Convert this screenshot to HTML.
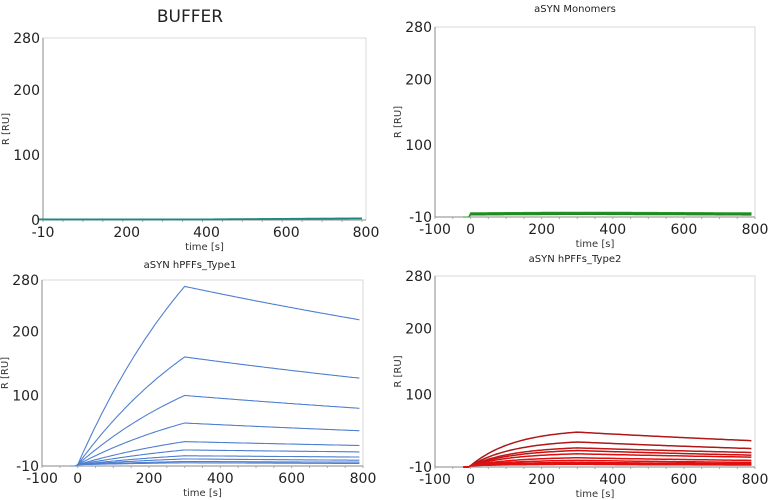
<!DOCTYPE html>
<html><head><meta charset="utf-8">
<style>
html,body{margin:0;padding:0;background:#fff;width:771px;height:500px;overflow:hidden}
svg{display:block;font-family:"DejaVu Sans","Liberation Sans",sans-serif}
</style></head><body>
<svg id="s" width="771" height="500" viewBox="0 0 771 500"></svg>
<script>
const s=document.getElementById('s');let h='';
function panel(o){
 const {L,R,T,B,xmin,xmax,ymin,ymax,xt,yt,title,tx,ty,tsize}=o;
 const X=v=>L+(v-xmin)/(xmax-xmin)*(R-L), Y=v=>B-(v-ymin)/(ymax-ymin)*(B-T);
 h+=`<rect x="${L}" y="${T}" width="${R-L}" height="${B-T}" fill="none" stroke="#d8d8d8"/>`;
 h+=`<line x1="${L}" y1="${T}" x2="${L}" y2="${B}" stroke="#888"/><line x1="${L}" y1="${B}" x2="${R}" y2="${B}" stroke="#888"/>`;
 for(const v of yt){h+=`<text x="${L-3}" y="${Y(v)+5}" font-size="14" text-anchor="end" fill="#222">${v}</text>`;}
 for(const v of xt){h+=`<text x="${X(v)}" y="${B+17}" font-size="14" text-anchor="middle" fill="#222">${v}</text>`;}
 for(let v=xmin;v<=xmax;v+=50){h+=`<line x1="${X(v)}" y1="${B}" x2="${X(v)}" y2="${B+2}" stroke="#aaa"/>`;}
 h+=`<text x="${(L+R)/2}" y="${B+30}" font-size="10" text-anchor="middle" fill="#333">time [s]</text>`;
 h+=`<text transform="translate(${L-34},${(T+B)/2}) rotate(-90)" font-size="10" text-anchor="middle" fill="#333">R [RU]</text>`;
 h+=`<text x="${tx}" y="${ty}" font-size="${tsize}" text-anchor="middle" fill="#222">${title}</text>`;
 return {X,Y};
}
function curve(P,f,col,w){let d='';for(let t=-20;t<=790;t+=5){d+=(d?'L':'M')+P.X(t).toFixed(1)+','+P.Y(f(t)).toFixed(1);}
 h+=`<path d="${d}" fill="none" stroke="${col}" stroke-width="${w}"/>`;}
function kin(base,peak,end,k){const kd=-Math.log((end-base)/(peak-base||1e-9))/490;
 return t=>t<0?-10:t<=300?base+(peak-base)*(1-Math.exp(-k*t))/(1-Math.exp(-k*300)):base+(peak-base)*Math.exp(-kd*(t-300));}
// BUFFER
let P=panel({L:43,R:366,T:38,B:220,xmin:-10,xmax:800,ymin:0,ymax:280,xt:[-10,200,400,600,800],yt:[0,100,200,280],title:'BUFFER',tx:190,ty:22,tsize:17});
for(let i=0;i<4;i++)curve(P,t=>0.5+i*0.3+Math.max(0,t-400)*0.004,'#1a8a80',1.2);
// Monomers
P=panel({L:435,R:755,T:27,B:217,xmin:-100,xmax:800,ymin:-10,ymax:280,xt:[-100,0,200,400,600,800],yt:[-10,100,200,280],title:'aSYN Monomers',tx:575,ty:12,tsize:10});
for(let i=0;i<8;i++)curve(P,t=>t<0?-10:-7+i*0.5+Math.min(t,300)*0.003-Math.max(0,t-300)*0.002,i%2?'#2a9a2a':'#1b7a1b',1);
// Type1
P=panel({L:42,R:363,T:280,B:466,xmin:-100,xmax:800,ymin:-10,ymax:280,xt:[-100,0,200,400,600,800],yt:[-10,100,200,280],title:'aSYN hPFFs_Type1',tx:190,ty:268,tsize:10});
[[270,218],[160,127],[100,80],[57,45],[28,22],[15,12],[6,4],[1,-1],[-3,-4],[-5,-6]].forEach(([p,e])=>curve(P,kin(-8,p,e,0.0022),'#4f7fd0',1.1));
// Type2
P=panel({L:435,R:755,T:276,B:467,xmin:-100,xmax:800,ymin:-10,ymax:280,xt:[-100,0,200,400,600,800],yt:[-10,100,200,280],title:'aSYN hPFFs_Type2',tx:575,ty:262,tsize:10});
[[43,30,'#b01818'],[28,18,'#b01818'],[19,12,'#c01818'],[15,8,'#c81010'],[10,5,'#d81010'],[4,0,'#e01010'],[0,-3,'#e01010'],[-3,-5,'#e01010'],[-5,-6,'#e01010'],[-6,-7,'#e01010']].forEach(([p,e,c])=>curve(P,kin(-8,p,e,0.008),c,1.5));
s.innerHTML=h;
</script>
</body></html>
